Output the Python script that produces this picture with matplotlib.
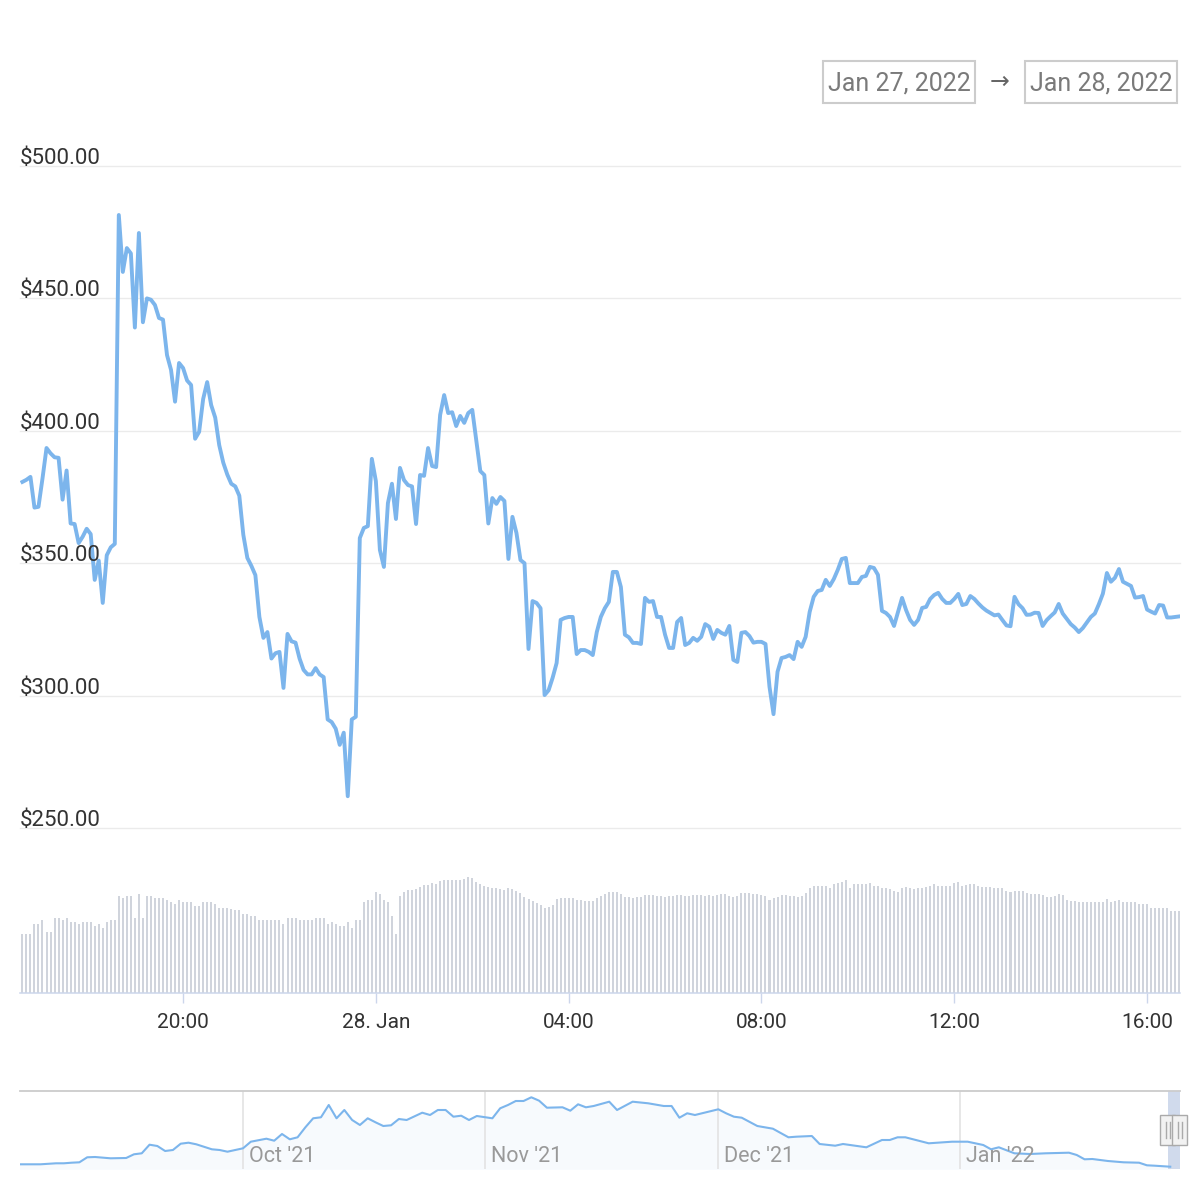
import matplotlib
matplotlib.use('Agg')
import matplotlib.pyplot as plt
import matplotlib.dates as mdates
from matplotlib.patches import Rectangle
from matplotlib.lines import Line2D
import pandas as pd

plt.rcParams['font.family'] = ['Roboto', 'DejaVu Sans']

# ---- data (5 minute candles, Jan 27 16:40 -> Jan 28 16:40) ----
START = '2022-01-27 16:40'

prices = [
    380.7, 381.5, 382.6, 371.0, 371.3, 382.0, 393.5, 391.5, 390.0, 389.8,
    374.0, 385.0, 365.0, 364.8, 357.6, 360.0, 363.0, 361.0, 343.7, 351.0,
    335.0, 353.0, 356.0, 357.3, 481.5, 460.0, 469.0, 467.0, 439.0, 474.7,
    441.0, 450.0, 449.5, 447.5, 442.6, 442.0, 428.6, 423.0, 411.0, 425.6,
    423.7, 419.0, 417.3, 397.0, 399.6, 412.0, 418.4, 409.7, 405.0, 394.6,
    388.0, 383.5, 380.0, 379.0, 375.5, 360.7, 352.0, 349.0, 345.5, 329.7,
    321.8, 324.0, 314.0, 316.0, 316.5, 302.9, 323.3, 320.5, 320.0, 314.0,
    309.7, 308.0, 308.0, 310.4, 308.0, 307.0, 291.0, 290.0, 287.5, 281.4,
    286.0, 262.0, 291.0, 292.0, 359.5, 363.3, 364.0, 389.4, 381.0, 355.0,
    348.6, 372.7, 380.0, 366.7, 386.0, 381.4, 379.5, 379.0, 364.8, 383.3,
    383.0, 393.5, 386.7, 386.3, 406.0, 413.5, 406.7, 407.0, 401.8, 405.6,
    403.0, 406.7, 407.9, 396.5, 384.8, 383.3, 365.0, 374.6, 372.4, 375.0,
    373.5, 351.6, 367.5, 361.4, 351.2, 350.0, 317.6, 335.7, 335.0, 333.0,
    300.2, 302.0, 306.7, 312.3, 328.6, 329.3, 329.7, 329.7, 315.7, 317.2,
    317.2, 316.5, 315.3, 324.0, 329.7, 333.0, 335.4, 346.7, 346.7, 341.0,
    323.0, 322.0, 319.9, 319.9, 319.5, 336.9, 335.4, 335.7, 329.7, 329.7,
    323.0, 318.0, 318.0, 327.8, 329.3, 319.1, 319.9, 321.8, 320.7, 322.2,
    327.0, 326.0, 321.4, 324.8, 323.7, 323.0, 326.3, 313.5, 312.7, 323.7,
    324.0, 322.5, 320.0, 320.3, 320.3, 319.5, 303.3, 293.0, 309.0, 314.2,
    314.6, 315.3, 313.8, 320.3, 318.4, 322.2, 331.6, 337.3, 339.5, 339.9,
    343.7, 341.4, 344.0, 347.5, 351.6, 352.0, 342.5, 342.5, 342.5, 344.8,
    345.2, 348.6, 348.2, 345.6, 332.0, 331.2, 329.7, 326.3, 331.6, 336.9,
    332.3, 328.6, 326.7, 328.6, 333.1, 333.5, 336.5, 338.0, 338.8, 336.5,
    335.0, 335.0, 336.5, 338.4, 334.2, 334.6, 337.6,
    336.5, 334.8, 333.3, 332.1, 331.2, 330.3, 330.6, 328.5, 326.5, 326.2,
    337.3, 334.5, 333.0, 330.5, 330.6, 331.3, 331.2, 326.3, 328.5, 330.0,
    331.4, 334.6, 331.0, 329.0, 327.0, 325.7, 324.0, 325.5, 327.6, 329.7,
    331.0, 334.5, 338.5, 346.3, 343.0, 344.5, 347.8, 343.0, 342.2, 341.4,
    337.0, 337.2, 337.6, 332.5, 331.7, 331.0, 334.2, 334.0, 329.5, 329.5,
    329.7, 329.9,
]

# volume has no scale on the chart, relative units
volumes = [
    59, 59, 59, 69, 69, 73, 61, 61, 75, 75,
    73, 75, 71, 71, 69, 71, 71, 71, 67, 69,
    65, 71, 73, 73, 97, 95, 97, 97, 75, 99,
    75, 97, 97, 95, 95, 95, 93, 91, 89, 93,
    91, 91, 91, 87, 87, 91, 91, 91, 89, 85,
    85, 85, 84, 83, 83, 79, 79, 77, 77, 73,
    73, 73, 73, 73, 73, 69, 75, 75, 75, 73,
    73, 73, 73, 75, 75, 75, 69, 71, 69, 67,
    67, 71, 65, 73, 73, 91, 93, 93, 101, 99,
    93, 91, 77, 59, 97,
    101, 103, 103, 104, 106, 108, 108, 110, 109, 112,
    113, 113, 113, 113, 113, 114, 116, 115, 111, 109,
    107, 106, 105, 105, 104, 103, 105, 104, 102, 100,
    96, 94, 92, 90, 88, 85, 86, 88, 94, 95,
    95, 95, 95, 93, 93, 92, 92, 92, 95, 97,
    99, 101, 101, 101, 99, 96, 96, 95, 96, 96,
    98, 98, 98, 97, 97, 96, 97, 97, 98, 98,
    97, 97, 98, 98, 98, 97, 98, 97, 98, 99,
    99, 97, 96, 97, 100, 100, 100, 99, 99, 98,
    97, 93, 95, 96, 98, 98, 97, 97, 96,
    97, 100, 105, 107, 107, 107, 107, 105, 109, 110,
    111, 113, 105, 109, 109, 109, 109, 110, 107, 107,
    105, 105, 104, 102, 101, 105, 106, 105, 104, 105,
    105, 106, 107, 109, 107, 107, 107, 107, 110, 111,
    107, 108, 109, 109, 107, 106, 106, 106, 105, 105,
    105, 102, 101, 102, 102, 102, 100, 99, 99, 99,
    98, 96, 96, 97, 99, 98, 93, 92, 92, 91,
    91, 91, 91, 91, 91, 91, 94, 91, 92, 93,
    91, 91, 91, 91, 89, 89, 89, 85, 85, 85,
    85, 85, 82, 82, 82,
]

price_ticks = [250, 300, 350, 400, 450, 500]
time_ticks = ['2022-01-27 20:00', '2022-01-28 00:00', '2022-01-28 04:00',
              '2022-01-28 08:00', '2022-01-28 12:00', '2022-01-28 16:00']
time_labels = ['20:00', '28. Jan', '04:00', '08:00', '12:00', '16:00']

# navigator (long range overview), relative units
nav_dates = [
    '2021-09-02', '2021-09-05', '2021-09-07', '2021-09-08', '2021-09-09', '2021-09-10',
    '2021-09-11', '2021-09-12', '2021-09-14', '2021-09-16', '2021-09-17', '2021-09-18',
    '2021-09-19', '2021-09-20', '2021-09-21', '2021-09-22', '2021-09-23', '2021-09-24',
    '2021-09-25', '2021-09-27', '2021-09-28', '2021-09-29', '2021-10-01', '2021-10-02',
    '2021-10-04', '2021-10-05', '2021-10-06', '2021-10-07', '2021-10-08', '2021-10-09',
    '2021-10-10', '2021-10-11', '2021-10-12', '2021-10-13', '2021-10-14', '2021-10-15',
    '2021-10-16', '2021-10-17', '2021-10-18', '2021-10-19', '2021-10-20', '2021-10-21',
    '2021-10-22', '2021-10-24', '2021-10-25', '2021-10-26', '2021-10-27', '2021-10-28',
    '2021-10-29', '2021-10-30', '2021-10-31', '2021-11-02', '2021-11-03', '2021-11-04',
    '2021-11-05', '2021-11-06', '2021-11-07', '2021-11-08', '2021-11-09', '2021-11-11',
    '2021-11-12', '2021-11-13', '2021-11-14', '2021-11-15', '2021-11-17', '2021-11-18',
    '2021-11-20', '2021-11-22', '2021-11-24', '2021-11-25', '2021-11-26', '2021-11-27',
    '2021-11-28', '2021-12-01', '2021-12-02', '2021-12-03', '2021-12-04', '2021-12-06',
    '2021-12-08', '2021-12-10', '2021-12-11', '2021-12-13', '2021-12-14', '2021-12-16',
    '2021-12-17', '2021-12-20', '2021-12-22', '2021-12-23', '2021-12-24', '2021-12-25',
    '2021-12-28', '2021-12-31', '2022-01-02', '2022-01-04', '2022-01-05', '2022-01-06',
    '2022-01-08', '2022-01-10', '2022-01-12', '2022-01-15', '2022-01-16', '2022-01-17',
    '2022-01-18', '2022-01-20', '2022-01-22', '2022-01-24', '2022-01-25', '2022-01-26',
    '2022-01-28',
]
nav_values = [
    5, 5, 6, 6, 6.6, 7,
    12, 12.3, 11, 11.3, 15, 16,
    24.6, 23.3, 18.3, 19.3, 25.6, 26.6,
    25, 20, 19.3, 17.6, 21, 27.6,
    30.6, 28.6, 35.3, 30, 32, 42,
    51, 52, 64.3, 51, 59.3, 49.3,
    44.3, 51, 47, 43.3, 44, 50.3,
    49.3, 56.6, 54.3, 59.3, 59.3, 52.6,
    53.6, 49.3, 53.3, 51, 61, 64.3,
    68.3, 68.3, 72, 68.6, 61.6, 62,
    58.6, 65, 62, 63.3, 67.6, 59.3,
    67.6, 66, 63.3, 63.3, 51.6, 56,
    54.3, 60, 56, 52.6, 51.6, 43.3,
    40.6, 32, 32.6, 33.3, 25.3, 23.6,
    25.3, 22, 29.3, 29.3, 32, 32,
    26, 27.6, 27.6, 24.3, 20, 22,
    16, 15.3, 16, 16.6, 14.3, 10,
    10.3, 8.3, 7, 6.6, 4, 3.6,
    2.6,
]
nav_months = ['2021-10-01', '2021-11-01', '2021-12-01', '2022-01-01']
nav_month_labels = ["Oct '21", "Nov '21", "Dec '21", "Jan '22"]

# ---- layout helpers (pixel positions of the 1200x1200 picture) ----
W = H = 1200


def fx(px):
    return px / W


def fy(py):
    return 1 - py / H


LINE_BLUE = '#7cb5ec'
AXIS_BLUE = '#ccd6eb'

times = pd.date_range(START, periods=len(prices), freq='5min')
x_lo = pd.Timestamp('2022-01-27 16:37')
x_hi = pd.Timestamp('2022-01-28 16:41')

fig = plt.figure(figsize=(12, 12), dpi=100)

# price panel
ax = fig.add_axes([fx(20), fy(828), fx(1160), 662 / H])
ax.plot(times, prices, color=LINE_BLUE, lw=2.8, solid_joinstyle='round')
ax.set_xlim(x_lo, x_hi)
ax.set_ylim(250, 500)
ax.set_yticks(price_ticks)
ax.grid(axis='y', color='#ebebeb', lw=1)
for gl in ax.yaxis.get_gridlines():
    gl.set_clip_on(False)
ax.tick_params(left=False, bottom=False, labelleft=False, labelbottom=False)
for s in ax.spines.values():
    s.set_visible(False)
for v in price_ticks:
    ax.annotate(f'${v:,.2f}', xy=(0, v), xycoords=ax.get_yaxis_transform(),
                xytext=(0, 2), textcoords='offset pixels',
                ha='left', va='baseline', fontsize=16, color='#333333')

# volume panel
axv = fig.add_axes([fx(20), fy(993), fx(1160), 120 / H])
axv.bar(times, volumes, width=5 / 1440 * 0.5, color='#d0d4dc', align='center')
axv.set_xlim(x_lo, x_hi)
axv.set_ylim(0, 120)
for k, s in axv.spines.items():
    s.set_visible(k == 'bottom')
axv.spines['bottom'].set_color(AXIS_BLUE)
axv.spines['bottom'].set_linewidth(1.1)
axv.set_xticks(pd.to_datetime(time_ticks))
axv.set_xticklabels(time_labels)
axv.tick_params(axis='x', length=7.5, width=1, color=AXIS_BLUE, pad=7,
                labelsize=15, labelcolor='#333333')
axv.tick_params(axis='y', left=False, labelleft=False)

# navigator
nav_t = pd.to_datetime(nav_dates)
axn = fig.add_axes([fx(20), fy(1169.3), fx(1160), 78.6 / H])
axn.fill_between(nav_t, nav_values, 0, color=LINE_BLUE, alpha=0.06, lw=0)
axn.plot(nav_t, nav_values, color=LINE_BLUE, lw=1.5)
axn.set_xlim(pd.Timestamp('2021-09-02 09:00'), pd.Timestamp('2022-01-29 06:00'))
axn.set_ylim(0, 78.6)
axn.set_xticks(pd.to_datetime(nav_months))
axn.grid(axis='x', color='#e3e3e3', lw=1.2)
axn.tick_params(length=0, labelbottom=False, labelleft=False)
for k, s in axn.spines.items():
    s.set_visible(k == 'top')
axn.spines['top'].set_color('#cccccc')
axn.spines['top'].set_linewidth(1.3)
for t, lab in zip(pd.to_datetime(nav_months), nav_month_labels):
    axn.annotate(lab, xy=(t, 0), xycoords=('data', 'axes fraction'),
                 xytext=(6, 7), textcoords='offset pixels',
                 ha='left', va='baseline', fontsize=15.5, color='#999999')

# selected range on the navigator
sel_lo = mdates.date2num(times[0])
sel_hi = mdates.date2num(pd.Timestamp('2022-01-29 06:00'))
axn.add_patch(Rectangle((sel_lo, 0), sel_hi - sel_lo, 78.6,
                        facecolor=(0.4, 0.52, 0.76, 0.3), edgecolor='none'))

# handles, drawn in figure coords so they can hang over the edge
for edge in (sel_lo, sel_hi):
    px = axn.transData.transform((edge, 0))[0]
    fig.add_artist(Rectangle((px / W - 7.5 / W, fy(1145)), 15 / W, 30 / H,
                             transform=fig.transFigure, facecolor='#f2f2f2',
                             edgecolor='#aaaaaa', lw=1, zorder=5))
    for dx in (-2, 2):
        fig.add_artist(Line2D([(px + dx) / W] * 2, [fy(1138), fy(1122)],
                              transform=fig.transFigure, color='#aaaaaa',
                              lw=1, zorder=6))

# date range boxes
range_from = times[0].strftime('%b %d, %Y')
range_to = times[-1].strftime('%b %d, %Y')
for left, label in ((823, range_from), (1025, range_to)):
    fig.add_artist(Rectangle((fx(left), fy(102.5)), fx(152), 41.5 / H,
                             transform=fig.transFigure, fill=False,
                             edgecolor='#cccccc', lw=1.5))
    fig.text(fx(left + 76), fy(90), label, ha='center', va='baseline',
             fontsize=18, color='#7a7a7a')
fig.text(fx(1000), fy(89), '\u2192', ha='center', va='baseline',
         fontsize=17, color='#666666', family=['DejaVu Sans'])

fig.savefig('out.png', dpi=100)
plt.close(fig)
